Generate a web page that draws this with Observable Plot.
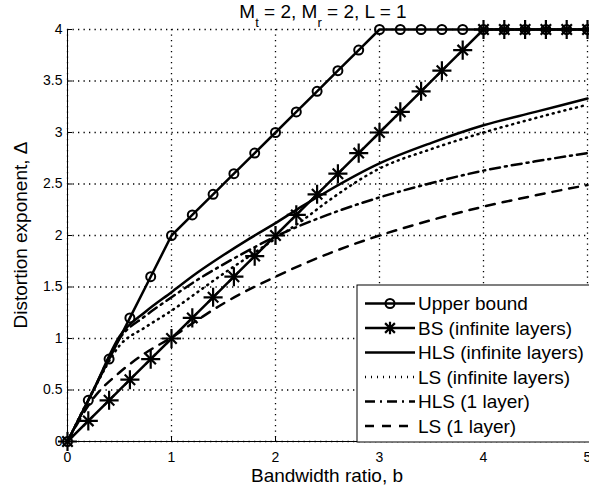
<!DOCTYPE html>
<html>
<head>
<meta charset="utf-8">
<script src="https://cdn.jsdelivr.net/npm/d3@7"></script>
<script src="https://cdn.jsdelivr.net/npm/@observablehq/plot@0.6"></script>
<style>
  html, body { margin: 0; padding: 0; background: #fff; }
  #chart { width: 589px; height: 490px; overflow: hidden; }
</style>
</head>
<body>
<div id="chart"></div>
<script>
// Bandwidth ratios at which the marked curves are sampled
const bMarked = [0, 0.2, 0.4, 0.6, 0.8, 1.0, 1.2, 1.4, 1.6, 1.8, 2.0, 2.2, 2.4,
                 2.6, 2.8, 3.0, 3.2, 3.4, 3.6, 3.8, 4.0, 4.2, 4.4, 4.6, 4.8, 5.0];
const upperBound = [0, 0.4, 0.8, 1.2, 1.6, 2.0, 2.2, 2.4, 2.6, 2.8, 3.0, 3.2, 3.4,
                    3.6, 3.8, 4, 4, 4, 4, 4, 4, 4, 4, 4, 4, 4];
const bsInfinite = [0, 0.2, 0.4, 0.6, 0.8, 1.0, 1.2, 1.4, 1.6, 1.8, 2.0, 2.2, 2.4,
                    2.6, 2.8, 3.0, 3.2, 3.4, 3.6, 3.8, 4, 4, 4, 4, 4, 4];

// Smooth curves
const bHlsInf = [0, 0.25, 0.5, 0.75, 1, 1.25, 1.5, 1.75, 2, 2.25, 2.5, 3, 3.5, 4, 4.5, 5];
const hlsInfinite = [0, 0.5, 1.02, 1.26, 1.45, 1.64, 1.81, 1.97, 2.12, 2.28, 2.43, 2.7, 2.9, 3.07, 3.2, 3.33];

const bLsInf = [0, 0.25, 0.5, 0.75, 1, 1.25, 1.5, 1.75, 2, 2.25, 2.5, 3, 3.5, 4, 4.5, 5];
const lsInfinite = [0, 0.5, 0.93, 1.11, 1.27, 1.45, 1.63, 1.8, 1.97, 2.14, 2.33, 2.65, 2.84, 3.0, 3.14, 3.27];

const bHls1 = [0, 0.25, 0.5, 0.75, 1, 1.25, 1.5, 1.75, 2, 2.5, 3, 3.5, 4, 4.5, 5];
const hlsOneLayer = [0, 0.5, 1.0, 1.22, 1.4, 1.57, 1.72, 1.86, 1.99, 2.2, 2.37, 2.51, 2.63, 2.72, 2.8];

const bLs1 = [0, 0.25, 0.5, 0.75, 1, 1.25, 1.5, 2, 2.5, 3, 3.5, 4, 4.5, 5];
const lsOneLayer = [0, 0.42, 0.67, 0.86, 1.01, 1.18, 1.34, 1.6, 1.82, 2.0, 2.15, 2.28, 2.39, 2.49];

const xTicks = [0, 1, 2, 3, 4, 5];
const yTicks = [0, 0.5, 1, 1.5, 2, 2.5, 3, 3.5, 4];

const seriesNames = ["Upper bound", "BS (infinite layers)", "HLS (infinite layers)",
                     "LS (infinite layers)", "HLS (1 layer)", "LS (1 layer)"];
const xLabel = "Bandwidth ratio, b";
const yLabel = "Distortion exponent, \u0394";

const zip = (xs, ys) => xs.map((b, i) => ({b, v: ys[i]}));
const ubRows = zip(bMarked, upperBound);
const bsRows = zip(bMarked, bsInfinite);
const hlsInfRows = zip(bHlsInf, hlsInfinite);
const lsInfRows = zip(bLsInf, lsInfinite);
const hls1Rows = zip(bHls1, hlsOneLayer);
const ls1Rows = zip(bLs1, lsOneLayer);

const FONT = "'Liberation Sans', Arial, Helvetica, sans-serif";
const LW = 2.5;
const dashes = {dotted: "1,5", dashDot: "10,5,2,5", dashed: "9,8"};
const gridStyle = {stroke: "#000", strokeWidth: 1.3, strokeOpacity: 1, strokeDasharray: "1.3,4.2"};

const chart = Plot.plot({
  width: 589,
  height: 490,
  marginTop: 29,
  marginBottom: 49,
  marginLeft: 67,
  marginRight: 2,
  style: {fontFamily: FONT, fontSize: "14px", background: "#fff", color: "#000"},
  x: {domain: [0, 5]},
  y: {domain: [0, 4]},
  marks: [
    // dotted grid
    Plot.ruleX(xTicks, {x: d => d, ...gridStyle}),
    Plot.ruleY(yTicks, {y: d => d, ...gridStyle}),
    // tick labels
    Plot.axisX(xTicks, {tickSize: 0, tickPadding: 10.5, fontSize: 14, label: null, tickFormat: d => String(d)}),
    Plot.axisY(yTicks, {tickSize: 0, tickPadding: 5, fontSize: 14, label: null, tickFormat: d => String(d)}),
    // inward tick marks
    Plot.axisX(xTicks, {tickSize: 5, dy: -5, tickFormat: () => "", label: null}),
    Plot.axisY(yTicks, {tickSize: 5, dx: 5, tickFormat: () => "", label: null}),
    Plot.ruleX([0], {stroke: "#000", strokeWidth: 1}),
    Plot.ruleY([0], {stroke: "#000", strokeWidth: 1}),

    Plot.line(ls1Rows, {x: "b", y: "v", curve: "monotone-x", stroke: "#000", strokeWidth: LW, strokeDasharray: dashes.dashed}),
    Plot.line(hls1Rows, {x: "b", y: "v", curve: "monotone-x", stroke: "#000", strokeWidth: LW, strokeDasharray: dashes.dashDot}),
    Plot.line(lsInfRows, {x: "b", y: "v", curve: "monotone-x", stroke: "#000", strokeWidth: LW, strokeDasharray: dashes.dotted}),
    Plot.line(hlsInfRows, {x: "b", y: "v", curve: "monotone-x", stroke: "#000", strokeWidth: LW}),

    Plot.line(ubRows, {x: "b", y: "v", stroke: "#000", strokeWidth: LW}),
    Plot.dot(ubRows, {x: "b", y: "v", r: 4.5, stroke: "#000", strokeWidth: 2, fill: "none"}),
    Plot.line(bsRows, {x: "b", y: "v", stroke: "#000", strokeWidth: LW}),
    Plot.dot(bsRows, {x: "b", y: "v", symbol: "plus", r: 6.2, stroke: "#000", strokeWidth: 2.2}),
    Plot.dot(bsRows, {x: "b", y: "v", symbol: "times", r: 4.8, stroke: "#000", strokeWidth: 2.2})
  ]
});

document.getElementById("chart").appendChild(chart);

// Title, axis labels and legend drawn in the same SVG
const svg = d3.select(chart);
const xs = chart.scale("x"), ys = chart.scale("y");
const plotLeft = xs.apply(0), plotRight = xs.apply(5);
const plotTop = ys.apply(4), plotBottom = ys.apply(0);
const cx = (plotLeft + plotRight) / 2;

const title = svg.append("text")
  .attr("x", cx - 4).attr("y", 18)
  .attr("text-anchor", "middle")
  .style("font-family", FONT).style("font-size", "19px").attr("fill", "#000");
title.append("tspan").text("M");
title.append("tspan").attr("dy", 8.5).style("font-size", "13px").text("t");
title.append("tspan").attr("dy", -8.5).text(" = 2, M");
title.append("tspan").attr("dy", 8.5).style("font-size", "13px").text("r");
title.append("tspan").attr("dy", -8.5).text(" = 2, L = 1");

svg.append("text")
  .attr("x", cx).attr("y", 481.5)
  .attr("text-anchor", "middle")
  .style("font-family", FONT).style("font-size", "19px").attr("fill", "#000")
  .text(xLabel);

svg.append("text")
  .attr("transform", `translate(26.5,${(plotTop + plotBottom) / 2}) rotate(-90)`)
  .attr("text-anchor", "middle")
  .style("font-family", FONT).style("font-size", "19px").attr("fill", "#000")
  .text(yLabel);

// Legend
const lg = svg.append("g").attr("transform", "translate(357,285)");
lg.append("rect").attr("x", 0).attr("y", 0).attr("width", 260).attr("height", 157)
  .attr("fill", "#fff").attr("stroke", "#000").attr("stroke-width", 1);
const styles = [null, null, null, dashes.dotted, dashes.dashDot, dashes.dashed];
seriesNames.forEach((name, i) => {
  const y = 18.5 + i * 24.5;
  lg.append("line").attr("x1", 8).attr("x2", 58).attr("y1", y).attr("y2", y)
    .attr("stroke", "#000").attr("stroke-width", LW)
    .attr("stroke-dasharray", styles[i]);
  if (i === 0) {
    lg.append("circle").attr("cx", 33).attr("cy", y).attr("r", 4.5)
      .attr("fill", "none").attr("stroke", "#000").attr("stroke-width", 2);
  }
  if (i === 1) {
    const a = 6.2, d = 4.9;
    lg.append("path")
      .attr("d", `M${33 - a},${y}h${2 * a}M33,${y - a}v${2 * a}M${33 - d},${y - d}l${2 * d},${2 * d}M${33 - d},${y + d}l${2 * d},${-2 * d}`)
      .attr("stroke", "#000").attr("stroke-width", 2.2).attr("fill", "none");
  }
  lg.append("text").attr("x", 61).attr("y", y).attr("dy", "0.35em")
    .attr("text-anchor", "start")
    .style("font-family", FONT).style("font-size", "19px").attr("fill", "#000")
    .text(name);
});
</script>
</body>
</html>
